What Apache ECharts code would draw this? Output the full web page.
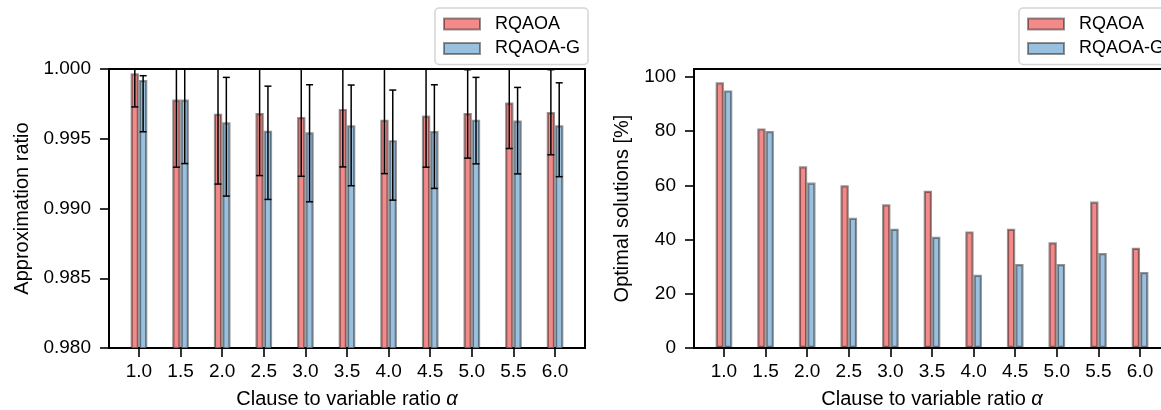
<!DOCTYPE html>
<html>
<head>
<meta charset="utf-8">
<script src="https://cdn.jsdelivr.net/npm/echarts@6/dist/echarts.min.js"></script>
<style>html,body{margin:0;padding:0;background:#fff;}#c{width:1161px;height:410px;}</style>
</head>
<body>
<div id="c"></div>
<script>
// ---- data ----
const categories = ['1.0','1.5','2.0','2.5','3.0','3.5','4.0','4.5','5.0','5.5','6.0'];
const seriesNames = ['RQAOA','RQAOA-G'];
// approximation ratio (left panel)
const rqaoaRatio  = [0.99969,0.99781,0.99680,0.99685,0.99656,0.99714,0.99637,0.99666,0.99685,0.99760,0.99692];
const rqaoaLow    = [0.99728,0.99296,0.99175,0.99236,0.99231,0.99298,0.99250,0.99296,0.99361,0.99430,0.99385];
const rqaoaHigh   = [1.00210,1.00266,1.00185,1.00134,1.00081,1.00130,1.00024,1.00036,0.99995,1.00090,0.99995];
const rqaoaGRatio = [0.99921,0.99781,0.99618,0.99558,0.99546,0.99596,0.99490,0.99555,0.99637,0.99630,0.99596];
const rqaoaGLow   = [0.99550,0.99322,0.99089,0.99065,0.99048,0.99163,0.99060,0.99144,0.99320,0.99248,0.99228];
const rqaoaGHigh  = [0.99952,1.00230,0.99940,0.99877,0.99887,0.99885,0.99849,0.99887,0.99940,0.99868,0.99901];
// optimal solutions % (right panel)
const rqaoaOpt  = [98,81,67,60,53,58,43,44,39,54,37];
const rqaoaGOpt = [95,80,61,48,44,41,27,31,31,35,28];
// tick labels
const leftYTicks  = [0.980,0.985,0.990,0.995,1.000];
const rightYTicks = [0,20,40,60,80,100];

// ---- layout / style ----
const FONT = 'Liberation Sans, Arial, sans-serif';
const BAR_W = 0.2;                 // bar width in x data units
const X_MIN = -0.72, X_MAX = 10.72;
const GRID_W = 476, GRID_H = 279, GRID_TOP = 69;
const barPx = GRID_W / (X_MAX - X_MIN) * BAR_W;
const idx = categories.map((c, i) => i);
const colors = ['#F38A8A', '#9AC0E0'];
const edge = 'rgba(0,0,0,0.42)';

function grid(left) {
  return {left: left, top: GRID_TOP, width: GRID_W, height: GRID_H, show: true,
          borderColor: '#000', borderWidth: 2, backgroundColor: 'transparent',
          containLabel: false, outerBoundsMode: 'none'};
}
function xAxis(gi) {
  return {
    gridIndex: gi, type: 'value', min: X_MIN, max: X_MAX, position: 'bottom',
    axisLine: {show: false, onZero: false}, splitLine: {show: false},
    axisTick: {show: true, length: 9, lineStyle: {color: '#000', width: 1.6}, customValues: idx},
    axisLabel: {color: '#000', fontSize: 19, fontFamily: FONT, margin: 14, customValues: idx,
                formatter: v => categories[Math.round(v)]},
    name: '{a|Clause to variable ratio }{b|α}', nameLocation: 'middle', nameGap: 41,
    nameTextStyle: {rich: {a: {fontSize: 20, fontFamily: FONT, color: '#000'},
                           b: {fontSize: 20, fontFamily: FONT, color: '#000', fontStyle: 'italic'}}}
  };
}
function yAxis(gi, min, max, ticks, fmt, name, gap) {
  return {
    gridIndex: gi, type: 'value', min: min, max: max, position: 'left',
    axisLine: {show: false, onZero: false}, splitLine: {show: false},
    axisTick: {show: true, length: 9, lineStyle: {color: '#000', width: 1.6}, customValues: ticks},
    axisLabel: {color: '#000', fontSize: 19, fontFamily: FONT, margin: 18, customValues: ticks, formatter: fmt},
    name: name, nameLocation: 'middle', nameGap: gap,
    nameTextStyle: {fontSize: 20, fontFamily: FONT, color: '#000'}
  };
}
function bars(name, ai, vals, ci) {
  return {
    type: 'bar', name: name, xAxisIndex: ai, yAxisIndex: ai,
    data: vals.map((v, i) => [idx[i], v]),
    barWidth: barPx, barGap: '0%',
    itemStyle: {color: colors[ci], borderColor: edge, borderWidth: 2.2},
    emphasis: {disabled: true}, z: 2
  };
}
function errBars(ai, low, high, sign) {
  return {
    type: 'custom', xAxisIndex: ai, yAxisIndex: ai, clip: true, z: 5, silent: true,
    data: low.map((l, i) => [idx[i], l, high[i]]),
    encode: {x: 0, y: [1, 2]},
    renderItem: function (params, api) {
      const x = api.value(0);
      const lo = api.coord([x, api.value(1)]);
      const hi = api.coord([x, api.value(2)]);
      const cx = lo[0] + sign * api.size([BAR_W / 2, 0])[0];
      const cap = 3.5;
      const st = {stroke: '#000', lineWidth: 1.5};
      return {type: 'group', children: [
        {type: 'line', shape: {x1: cx, y1: lo[1], x2: cx, y2: hi[1]}, style: st},
        {type: 'line', shape: {x1: cx - cap, y1: lo[1], x2: cx + cap, y2: lo[1]}, style: st},
        {type: 'line', shape: {x1: cx - cap, y1: hi[1], x2: cx + cap, y2: hi[1]}, style: st}
      ]};
    }
  };
}
function legend(left) {
  return {
    left: left, top: 8, orient: 'vertical', data: seriesNames, icon: 'rect',
    itemWidth: 36, itemHeight: 11, itemGap: 6.5,
    padding: [7, 8, 7, 8], backgroundColor: '#fff', borderColor: '#d4d4d4', borderWidth: 1.5, borderRadius: 4,
    textStyle: {fontSize: 18, lineHeight: 18, fontFamily: FONT, color: '#000', padding: [0, 0, 0, 10]},
    selectedMode: false
  };
}

const chart = echarts.init(document.getElementById('c'), null, {renderer: 'canvas'});
chart.setOption({
  animation: false,
  backgroundColor: '#fff',
  grid: [grid(109), grid(694)],
  xAxis: [xAxis(0), xAxis(1)],
  yAxis: [
    yAxis(0, 0.98, 1.0, leftYTicks, v => v.toFixed(3), 'Approximation ratio', 77),
    yAxis(1, 0, 102.9, rightYTicks, v => String(Math.round(v)), 'Optimal solutions [%]', 62)
  ],
  legend: [legend(435), legend(1019)],
  series: [
    bars(seriesNames[0], 0, rqaoaRatio, 0),
    bars(seriesNames[1], 0, rqaoaGRatio, 1),
    errBars(0, rqaoaLow, rqaoaHigh, -1),
    errBars(0, rqaoaGLow, rqaoaGHigh, 1),
    bars(seriesNames[0], 1, rqaoaOpt, 0),
    bars(seriesNames[1], 1, rqaoaGOpt, 1)
  ]
});
</script>
</body>
</html>
